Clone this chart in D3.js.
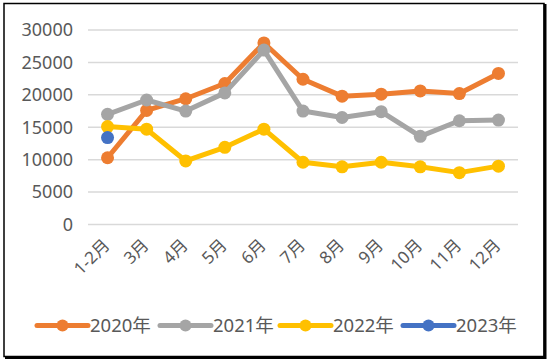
<!DOCTYPE html>
<html><head><meta charset="utf-8">
<script src="https://cdn.jsdelivr.net/npm/d3@7"></script>
<style>body{margin:0;background:#fff}svg{display:block}text{font-family:"Noto Sans","Noto Sans CJK SC",sans-serif}</style>
</head><body><svg id="c" width="550" height="360"></svg>
<script>
const categories = ["1-2月","3月","4月","5月","6月","7月","8月","9月","10月","11月","12月"];
const seriesNames = ["2020年","2021年","2022年","2023年"];
const v2020 = [10300,17600,19400,21750,28000,22400,19800,20100,20600,20200,23300];
const v2021 = [17000,19200,17500,20300,26900,17500,16500,17400,13600,16000,16100];
const v2022 = [15100,14700,9800,11900,14700,9600,8900,9600,8900,8000,9000];
const v2023 = [13400];
const yTicks = [0,5000,10000,15000,20000,25000,30000];
const colors = ["#ED7D31","#A5A5A5","#FFC000","#4472C4"];
const seriesValues = [v2020, v2021, v2022, v2023];
const FONT = '"Noto Sans","Noto Sans CJK SC",sans-serif';

const svg = d3.select("#c");
// frame
svg.append("rect").attr("x",4).attr("y",3.5).attr("width",540).attr("height",353).attr("fill","none").attr("stroke","#000").attr("stroke-width",1.5);
svg.append("line").attr("x1",545).attr("x2",545).attr("y1",4).attr("y2",359).attr("stroke","#000").attr("stroke-width",3);
svg.append("line").attr("x1",5).attr("x2",546).attr("y1",357.5).attr("y2",357.5).attr("stroke","#000").attr("stroke-width",3);

const x = d3.scaleBand().domain(categories).range([88,518]);
const y = d3.scaleLinear().domain([0,30000]).range([224.5,30]);

// grid
svg.append("g").selectAll("line").data(yTicks).join("line")
  .attr("x1",88).attr("x2",518).attr("y1",d=>y(d)).attr("y2",d=>y(d))
  .attr("stroke","#D9D9D9").attr("stroke-width",1.5);

// y axis labels
const yAxis = d3.axisLeft(y).tickValues(yTicks).tickSize(0).tickPadding(0).tickFormat(d=>String(d));
const yg = svg.append("g").attr("transform","translate(73,0)").call(yAxis);
yg.select(".domain").remove();
yg.selectAll("text").attr("font-size",18).attr("fill","#595959").attr("font-family",FONT);

// x axis labels
const xAxis = d3.axisBottom(x).tickSize(0).tickPadding(0);
const xg = svg.append("g").attr("transform","translate(0,232)").call(xAxis);
xg.select(".domain").remove();
xg.selectAll("text").attr("font-size",17).attr("fill","#595959")
  .attr("font-family",FONT)
  .attr("text-anchor","end").attr("dy","0.35em").attr("dx",0)
  .attr("transform","translate(-1,10) rotate(-45)");

const px = c => x(c) + x.bandwidth()/2;
const line = d3.line().x((d,i)=>px(categories[i])).y(d=>y(d));

seriesValues.forEach((vals,si)=>{
  const g = svg.append("g");
  if (vals.length>1) g.append("path").datum(vals).attr("d",line).attr("fill","none")
    .attr("stroke",colors[si]).attr("stroke-width",5).attr("stroke-linejoin","round");
  g.selectAll("circle").data(vals).join("circle")
    .attr("cx",(d,i)=>px(categories[i])).attr("cy",d=>y(d)).attr("r",6.5).attr("fill",colors[si]);
});

// legend
const legX = [37,160,280,403];
const lg = svg.append("g").attr("transform","translate(0,325.5)");
seriesNames.forEach((n,i)=>{
  const g = lg.append("g").attr("transform",`translate(${legX[i]},0)`);
  g.append("line").attr("x1",0).attr("x2",51).attr("y1",0).attr("y2",0).attr("stroke",colors[i]).attr("stroke-width",5).attr("stroke-linecap","round");
  g.append("circle").attr("cx",25.5).attr("cy",0).attr("r",6).attr("fill",colors[i]);
  g.append("text").attr("x",53).attr("y",0).attr("dy","0.36em").attr("font-size",18.5).attr("font-family",FONT).attr("fill","#595959").text(n);
});
</script></body></html>
